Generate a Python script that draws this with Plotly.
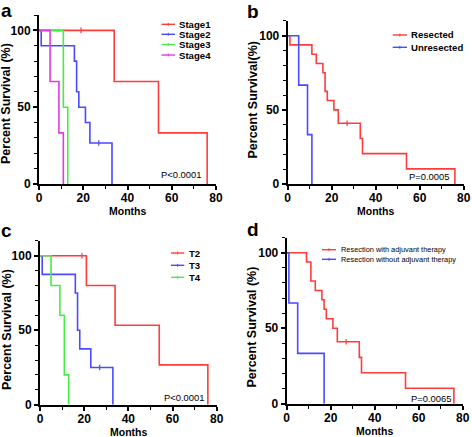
import plotly.graph_objects as go

W, H = 472, 437
FONT = "Liberation Sans, Arial, sans-serif"

RED = "#ff3b3b"
BLUE = "#4a4aff"
GREEN = "#44ee44"
MAGENTA = "#dd3ddd"

# ---------- data (months, percent survival) ----------
# Panel a: stage
stage1_t = [0, 34, 54, 76]
stage1_s = [100, 66.7, 33.3, 0]
stage1_cens_t = [19]
stage1_cens_s = [100]
stage2_t = [0, 1, 16, 17, 18, 21, 23, 33]
stage2_s = [100, 90, 80, 60, 50, 40, 26.7, 0]
stage2_cens_t = [27]
stage2_cens_s = [26.7]
stage3_t = [0, 11, 13]
stage3_s = [100, 50, 0]
stage4_t = [0, 5, 9, 11]
stage4_s = [100, 66.7, 33.3, 0]

# Panel b: resection
resected_t = [0, 1, 11, 13, 16, 17, 18, 21, 23, 33, 34, 54, 76]
resected_s = [100, 93.8, 87.5, 81.3, 75, 62.5, 56.3, 50, 41, 30.7, 20.5, 10.2, 0]
resected_cens_t = [27]
resected_cens_s = [41]
unresected_t = [0, 5, 9, 11]
unresected_s = [100, 66.7, 33.3, 0]

# Panel c: T stage
t2_t = [0, 21, 34, 54, 76]
t2_s = [100, 80, 53.3, 26.7, 0]
t2_cens_t = [19]
t2_cens_s = [100]
t3_t = [0, 1, 16, 17, 18, 23, 33]
t3_s = [100, 87.5, 75, 50, 37.5, 25, 0]
t3_cens_t = [27]
t3_cens_s = [25]
t4_t = [0, 5, 9, 11, 13]
t4_s = [100, 80, 60, 20, 0]

# Panel d: adjuvant therapy
adj_t = [0, 9, 11, 13, 16, 17, 18, 21, 23, 33, 34, 54, 76]
adj_s = [100, 93.8, 81.3, 75, 68.8, 62.5, 56.3, 50, 41, 30.7, 20.5, 10.2, 0]
adj_cens_t = [27]
adj_cens_s = [41]
noadj_t = [0, 1, 5, 17]
noadj_s = [100, 66.7, 33.3, 0]

x_ticks = [0, 20, 40, 60, 80]
y_ticks = [0, 50, 100]

panels = {
    "a": dict(
        series=[
            ("Stage1", stage1_t, stage1_s, RED, stage1_cens_t, stage1_cens_s),
            ("Stage2", stage2_t, stage2_s, BLUE, stage2_cens_t, stage2_cens_s),
            ("Stage3", stage3_t, stage3_s, GREEN, [], []),
            ("Stage4", stage4_t, stage4_s, MAGENTA, [], []),
        ],
        pval="P<0.0001", ytitle="Percent Survival (%)",
        box=(39, 216, 15, 184), letter=(6, 10),
        xt=(127.5, 211.5), yt=(6.5, 103.5),
        leg=dict(x0=161.5, x1=175, tx=176.5, ys=[24.3, 34.3, 44.5, 55], size=9.6, bold=True),
        p=(181, 174.5, 9.4),
    ),
    "b": dict(
        series=[
            ("Resected", resected_t, resected_s, RED, resected_cens_t, resected_cens_s),
            ("Unresected", unresected_t, unresected_s, BLUE, [], []),
        ],
        pval="P=0.0005", ytitle="Percent Survival(%)",
        box=(287.7, 463.7, 20.9, 184), letter=(253, 11),
        xt=(375, 211.5), yt=(252.5, 100),
        leg=dict(x0=392.7, x1=407, tx=409, ys=[35, 47.3], size=9.6, bold=True),
        p=(428.5, 176.7, 9.4),
    ),
    "c": dict(
        series=[
            ("T2", t2_t, t2_s, RED, t2_cens_t, t2_cens_s),
            ("T3", t3_t, t3_s, BLUE, t3_cens_t, t3_cens_s),
            ("T4", t4_t, t4_s, GREEN, [], []),
        ],
        pval="P<0.0001", ytitle="Percent Survival (%)",
        box=(40, 216.7, 240.8, 404.7), letter=(6, 230),
        xt=(128, 431.5), yt=(6.5, 329.5),
        leg=dict(x0=171, x1=184.3, tx=186.5, ys=[253, 265.3, 277.3], size=9.6, bold=True),
        p=(183.5, 397.3, 9.4),
    ),
    "d": dict(
        series=[
            ("Resection with adjuvant therapy", adj_t, adj_s, RED, adj_cens_t, adj_cens_s),
            ("Resection without adjuvant therapy", noadj_t, noadj_s, BLUE, [], []),
        ],
        pval="P=0.0065", ytitle="Percent Survival (%)",
        box=(286.7, 462.7, 237.6, 403.7), letter=(253, 229),
        xt=(374.7, 431), yt=(251.5, 327),
        leg=dict(x0=322, x1=336, tx=339, ys=[249.7, 259.3], size=7.4, bold=False),
        p=(431, 398, 9.4),
    ),
}

fig = go.Figure()
annotations = []
shapes = []


def px(x):
    return x / W


def py(y):
    return 1 - y / H


for i, (key, p) in enumerate(panels.items()):
    n = "" if i == 0 else str(i + 1)
    xa, ya = "x" + n, "y" + n
    for name, t, s, col, ct, cs in p["series"]:
        fig.add_trace(go.Scatter(
            x=t, y=s, mode="lines", line=dict(shape="hv", color=col, width=1.6),
            name=name, showlegend=False, xaxis=xa, yaxis=ya, cliponaxis=False,
        ))
        if ct:
            fig.add_trace(go.Scatter(
                x=ct, y=cs, mode="markers", showlegend=False, xaxis=xa, yaxis=ya,
                marker=dict(symbol="line-ns", size=4, line=dict(color=col, width=1.2)),
                cliponaxis=False,
            ))
    x0, x1, y0, y1 = p["box"]
    axcommon = dict(
        showline=True, linecolor="black", linewidth=2, ticks="outside",
        ticklen=4, tickwidth=1.6, tickcolor="black", showgrid=False, zeroline=False,
        automargin=False,
        tickfont=dict(family=FONT, size=12, color="black", weight="bold"),
    )
    fig.layout["xaxis" + n] = dict(
        axcommon, domain=[px(x0), px(x1)], range=[0, 80], anchor=ya,
        tickvals=x_ticks, ticktext=[str(v) for v in x_ticks],
        ticklabelstandoff=-2,
        minor=dict(dtick=10, tick0=0, ticks="outside", ticklen=3, tickwidth=1.2, tickcolor="black"),
    )
    fig.layout["yaxis" + n] = dict(
        axcommon, domain=[py(y1), py(y0)], range=[0, 110], anchor=xa,
        tickvals=y_ticks, ticktext=[str(v) for v in y_ticks],
        minor=dict(dtick=10, tick0=0, ticks="outside", ticklen=3, tickwidth=1.2, tickcolor="black"),
    )
    # axis titles
    tx, ty = p["xt"]
    annotations.append(dict(
        text="Months", x=px(tx), y=py(ty), xref="paper", yref="paper", showarrow=False,
        xanchor="center", yanchor="middle",
        font=dict(family=FONT, size=10.5, color="black", weight="bold"),
    ))
    tx, ty = p["yt"]
    annotations.append(dict(
        text=p["ytitle"], x=px(tx), y=py(ty), xref="paper", yref="paper", showarrow=False,
        xanchor="center", yanchor="middle", textangle=-90,
        font=dict(family=FONT, size=12.5, color="black", weight="bold"),
    ))
    # panel letter
    lx, ly = p["letter"]
    annotations.append(dict(
        text=key, x=px(lx), y=py(ly), xref="paper", yref="paper", showarrow=False,
        xanchor="center", yanchor="middle",
        font=dict(family=FONT, size=19, color="black", weight="bold"),
    ))
    # legend
    lg = p["leg"]
    for (name, t, s, col, ct, cs), yy in zip(p["series"], lg["ys"]):
        shapes.append(dict(type="line", xref="paper", yref="paper",
                           x0=px(lg["x0"]), x1=px(lg["x1"]), y0=py(yy), y1=py(yy),
                           line=dict(color=col, width=1.4)))
        mx = (lg["x0"] + lg["x1"]) / 2
        shapes.append(dict(type="line", xref="paper", yref="paper",
                           x0=px(mx), x1=px(mx), y0=py(yy - 1.5), y1=py(yy + 1.5),
                           line=dict(color=col, width=1)))
        annotations.append(dict(
            text=name, x=px(lg["tx"]), y=py(yy), xref="paper", yref="paper",
            showarrow=False, xanchor="left", yanchor="middle",
            font=dict(family=FONT, size=lg["size"], color="black",
                      weight="bold" if lg["bold"] else "normal"),
        ))
    # p-value
    ppx, ppy, psz = p["p"]
    annotations.append(dict(
        text=p["pval"], x=px(ppx), y=py(ppy), xref="paper", yref="paper",
        showarrow=False, xanchor="center", yanchor="middle",
        font=dict(family=FONT, size=psz, color="black"),
    ))

fig.update_layout(
    width=W, height=H, margin=dict(l=0, r=0, t=0, b=0),
    paper_bgcolor="white", plot_bgcolor="white",
    annotations=annotations, shapes=shapes, showlegend=False,
)

fig.write_html(
    "out.html",
    config={"displayModeBar": False},
    post_script="document.body.style.margin='0px';document.body.style.overflow='hidden';",
)
